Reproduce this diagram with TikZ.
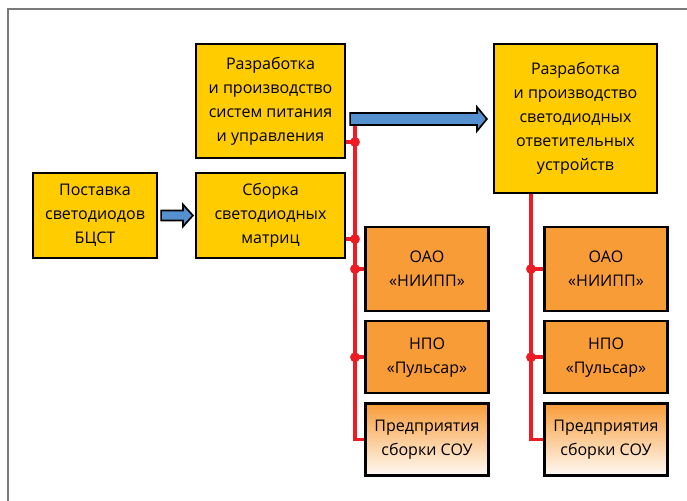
\documentclass[tikz,border=0pt]{standalone}
\usepackage{fontspec}
\setmainfont{Open Sans}
\usetikzlibrary{positioning,calc}

\definecolor{boxyellow}{HTML}{FFCC00}
\definecolor{boxorange}{HTML}{F89C38}
\definecolor{busred}{HTML}{ED1C24}
\definecolor{arrowblue}{HTML}{5591CF}
\definecolor{framegray}{HTML}{7A7A7A}

\def\px{0.025cm}

\tikzset{
  box/.style={draw=black, line width=1.6pt, align=center, inner sep=2pt,
    font=\fontsize{11.4}{17}\selectfont},
  ybox/.style={box, fill=boxyellow},
  obox/.style={box, fill=boxorange, minimum width=123*\px},
  gbox/.style={box, top color=boxorange, bottom color=white!95!boxorange,
    minimum width=123*\px, minimum height=72*\px},
  bus/.style={draw=busred, line width=2.5pt},
  dot/.style={circle, fill=busred, inner sep=0pt, minimum size=7pt},
  blockarrow/.style={draw=black, line width=1.2pt, fill=arrowblue, line join=miter},
}

% block arrow: start, end, half shaft, half head
\newcommand{\fatarrow}[4]{%
  \draw[blockarrow] let \p1=(#1), \p2=(#2) in
    (\x1,\y1+#3) -- (\x2-7pt,\y1+#3) -- (\x2-7pt,\y1+#4) -- (\x2,\y1)
    -- (\x2-7pt,\y1-#4) -- (\x2-7pt,\y1-#3) -- (\x1,\y1-#3) -- cycle;}

\begin{document}
\begin{tikzpicture}[x=0.025cm, y=-0.025cm]
\useasboundingbox (0,0) rectangle (687,501);

%% frame
\draw[framegray, line width=1.5pt] (687,9) -| (8,501);

%% yellow boxes
\node[ybox, minimum width=124*\px, minimum height=85*\px](sup) at (95,215.5)
  {Поставка\\светодиодов\\БЦСТ};
\node[ybox, minimum width=149*\px, minimum height=85*\px](matr) at (270.5,215.5)
  {Сборка\\светодиодных\\матриц};
\node[ybox, minimum width=149*\px, minimum height=114*\px](pwr) at (270.5,101)
  {Разработка\\и производство\\систем питания\\и управления};
\node[ybox, minimum width=163*\px, minimum height=149*\px](dev) at (575.5,118.5)
  {Разработка\\и производство\\светодиодных\\ответительных\\устройств};

%% orange boxes, left column
\node[obox, minimum height=84*\px](niipp1) at (427,269) {ОАО\\«НИИПП»};
\node[obox, minimum height=72*\px, below=0.2cm of niipp1](pulsar1) {НПО\\«Пульсар»};
\node[gbox, below=0.2cm of pulsar1](soup1) {Предприятия\\сборки СОУ};

%% orange boxes, right column
\node[obox, minimum height=84*\px](niipp2) at (606,269) {ОАО\\«НИИПП»};
\node[obox, minimum height=72*\px, below=0.2cm of niipp2](pulsar2) {НПО\\«Пульсар»};
\node[gbox, below=0.2cm of pulsar2](soup2) {Предприятия\\сборки СОУ};

%% blue arrows
\coordinate (arr1s) at ($(sup.east)+(3,0)$);
\coordinate (arr1e) at ($(matr.west)+(-2,0)$);
\fatarrow{arr1s}{arr1e}{3.6pt}{7.8pt}

\coordinate (arr2s) at ($(pwr.east)+(4,18)$);
\coordinate (arr2e) at ($(dev.west |- arr2s)+(-6,0)$);
\fatarrow{arr2s}{arr2e}{4.3pt}{8.5pt}

%% red bus, left
\coordinate (busL) at (355,126);
\draw[bus] (busL) |- (soup1.west);
\draw[bus] (pwr.east |- 0,142) -- (busL |- 0,142) node[dot]{};
\draw[bus] (matr.east |- 0,239) -- (busL |- 0,239) node[dot]{};
\foreach \n in {niipp1, pulsar1}
  \draw[bus] (\n.west) -- (busL |- \n.west) node[dot]{};

%% red bus, right
\coordinate (busR) at (531,193);
\draw[bus] (busR |- dev.south) |- (soup2.west);
\foreach \n in {niipp2, pulsar2}
  \draw[bus] (\n.west) -- (busR |- \n.west) node[dot]{};

\end{tikzpicture}
\end{document}
